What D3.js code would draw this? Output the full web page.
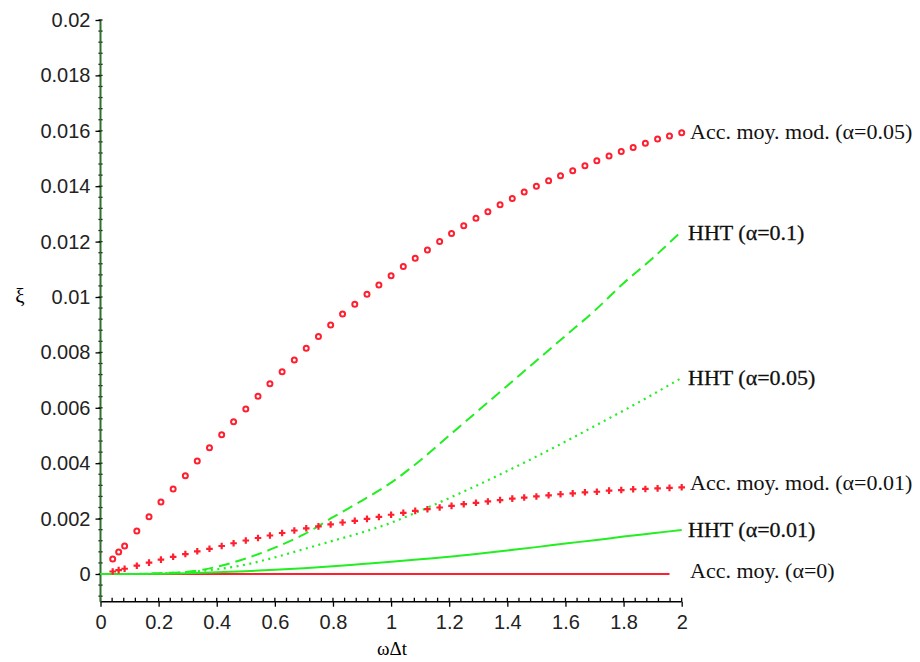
<!DOCTYPE html>
<html>
<head>
<meta charset="utf-8">
<script src="https://cdn.jsdelivr.net/npm/d3@7"></script>
<style>
  body { margin: 0; background: #fff; }
  svg { display: block; }
</style>
</head>
<body>
<svg id="chart"></svg>
<script>
"use strict";

// sample abscissae of the marker curves (omega * dt)
const markX = [0.042, 0.0625, 0.083, 0.125, 0.167, 0.208, 0.25, 0.292, 0.333, 0.375,
    0.417, 0.458, 0.5, 0.542, 0.583, 0.625, 0.667, 0.708, 0.75, 0.792,
    0.833, 0.875, 0.917, 0.958, 1.0, 1.042, 1.083, 1.125, 1.167, 1.208,
    1.25, 1.292, 1.333, 1.375, 1.417, 1.458, 1.5, 1.542, 1.583, 1.625,
    1.667, 1.708, 1.75, 1.792, 1.833, 1.875, 1.917, 1.958, 2.0];

// Acc. moy. mod. (alpha=0.05), values in 1e-3
const accMod05 = [0.54, 0.79, 1.01, 1.55, 2.07, 2.60, 3.07, 3.55, 4.08, 4.56,
    5.03, 5.50, 5.96, 6.42, 6.87, 7.30, 7.73, 8.15, 8.57, 8.99,
    9.39, 9.74, 10.10, 10.43, 10.77, 11.10, 11.40, 11.70, 12.00, 12.29,
    12.57, 12.84, 13.08, 13.33, 13.56, 13.79, 14.00, 14.20, 14.38, 14.56,
    14.74, 14.92, 15.09, 15.25, 15.40, 15.55, 15.70, 15.81, 15.93];

// Acc. moy. mod. (alpha=0.01), values in 1e-3
const accMod01 = [0.09, 0.14, 0.19, 0.30, 0.41, 0.52, 0.62, 0.72, 0.82, 0.91,
    1.01, 1.11, 1.21, 1.30, 1.39, 1.48, 1.57, 1.65, 1.72, 1.79,
    1.86, 1.92, 1.99, 2.06, 2.14, 2.21, 2.28, 2.34, 2.40, 2.46,
    2.52, 2.57, 2.62, 2.67, 2.72, 2.76, 2.80, 2.84, 2.88, 2.91,
    2.95, 2.97, 3.01, 3.03, 3.06, 3.07, 3.09, 3.11, 3.13];

// HHT curves, sampled every 0.1
const hhtX = [0, 0.1, 0.2, 0.3, 0.4, 0.5, 0.6, 0.7, 0.8, 0.9, 1.0,
    1.1, 1.2, 1.3, 1.4, 1.5, 1.6, 1.7, 1.8, 1.9, 2.0];
const hht10 = [0, 0.0, 0.03, 0.08, 0.26, 0.56, 0.95, 1.43, 2.05, 2.65, 3.3,
    4.1, 5.0, 5.9, 6.8, 7.7, 8.6, 9.5, 10.5, 11.4, 12.38];
const hht05 = [0, 0.0, 0.02, 0.07, 0.17, 0.34, 0.6, 0.9, 1.2, 1.5, 1.85,
    2.28, 2.74, 3.22, 3.72, 4.24, 4.78, 5.34, 5.9, 6.48, 7.08];
const hht01 = [0, 0.0, 0.01, 0.03, 0.06, 0.1, 0.15, 0.21, 0.28, 0.36, 0.44,
    0.53, 0.62, 0.73, 0.85, 0.97, 1.1, 1.22, 1.35, 1.47, 1.59];

// Acc. moy. (alpha=0)
const accX = [0.042, 1.958];
const acc0 = [0, 0];

const yTicks = [0, 0.002, 0.004, 0.006, 0.008, 0.01, 0.012, 0.014, 0.016, 0.018, 0.02];
const xTicks = [0, 0.2, 0.4, 0.6, 0.8, 1, 1.2, 1.4, 1.6, 1.8, 2];

const curveLabels = [
    {text: "Acc. moy. mod. (\u03b1=0.05)", y: 139, hht: false},
    {text: "HHT (\u03b1=0.1)", y: 240, hht: true},
    {text: "HHT (\u03b1=0.05)", y: 385, hht: true},
    {text: "Acc. moy. mod. (\u03b1=0.01)", y: 490, hht: false},
    {text: "HHT (\u03b1=0.01)", y: 537, hht: true},
    {text: "Acc. moy. (\u03b1=0)", y: 578, hht: false}
];

const RED = "#ff1f2f";
const GREEN = "#22ee22";

function zip(xs, ys) {
    return xs.map((x, i) => [x, ys[i] / 1000]);
}

class dampingChart {
    constructor(elem) {
        this.width = 920;
        this.height = 662;
        this.svg = d3.select(elem)
            .attr("width", this.width)
            .attr("height", this.height);

        this.x = d3.scaleLinear().domain([0, 2]).range([100.5, 681.7]);
        this.y = d3.scaleLinear().domain([-0.001, 0.02]).range([601.7, 20]);
    }

    drawAxes() {
        let x = this.x, y = this.y;
        let g = this.svg.append("g");

        // minor ticks
        let xMinor = d3.range(0, 2.0001, 0.04);
        g.selectAll("line.xminor").data(xMinor).join("line")
            .attr("x1", d => x(d)).attr("x2", d => x(d))
            .attr("y1", y(-0.001)).attr("y2", y(-0.001) - 4)
            .attr("stroke", "#000").attr("stroke-width", 1.3);
        let yMinor = d3.range(-0.0008, 0.02001, 0.0004);
        g.selectAll("line.yminor").data(yMinor).join("line")
            .attr("x1", x(0) - 2).attr("x2", x(0) + 2)
            .attr("y1", d => y(d)).attr("y2", d => y(d))
            .attr("stroke", "#000").attr("stroke-width", 1.3);

        let xAxis = d3.axisBottom(x).tickValues(xTicks).tickSize(5)
            .tickFormat(d3.format("~g")).tickPadding(8);
        let xg = g.append("g").attr("transform", `translate(0,${y(-0.001)})`).call(xAxis);
        xg.select(".domain").attr("d", `M${x(0)},0H${x(2)}`).attr("stroke-width", 1.5);

        let yAxis = d3.axisLeft(y).tickValues(yTicks).tickSize(5)
            .tickFormat(d3.format("~g")).tickPadding(5);
        let yg = g.append("g").attr("transform", `translate(${x(0)},0)`).call(yAxis);
        yg.select(".domain").attr("d", `M0,${y(0.02)}V${y(-0.001)}`)
            .attr("stroke", "#2f6f2f").attr("stroke-width", 2);

        g.selectAll(".tick text")
            .attr("font-family", "Liberation Sans, Arial, sans-serif")
            .attr("font-size", 20).attr("fill", "#222");
        g.selectAll(".tick line").attr("stroke-width", 1.3);

        g.append("text").text("\u03c9\u0394t")
            .attr("x", 392).attr("y", 655)
            .attr("text-anchor", "middle")
            .attr("font-family", "Liberation Serif, serif")
            .attr("font-size", 19);
        g.append("text").text("\u03be")
            .attr("x", 20).attr("y", 303)
            .attr("text-anchor", "middle")
            .attr("font-family", "Liberation Serif, serif")
            .attr("font-size", 21);
    }

    render() {
        let x = this.x, y = this.y;
        let line = d3.line().x(d => x(d[0])).y(d => y(d[1]));
        let smooth = d3.line().x(d => x(d[0])).y(d => y(d[1])).curve(d3.curveMonotoneX);

        this.drawAxes();
        let plot = this.svg.append("g");

        plot.append("path").datum(zip(accX, acc0))
            .attr("d", line).attr("fill", "none")
            .attr("stroke", RED).attr("stroke-width", 2);

        plot.append("path").datum(zip(hhtX, hht01))
            .attr("d", smooth).attr("fill", "none")
            .attr("stroke", GREEN).attr("stroke-width", 2);
        plot.append("path").datum(zip(hhtX, hht05))
            .attr("d", smooth).attr("fill", "none")
            .attr("stroke", GREEN).attr("stroke-width", 2.2)
            .attr("stroke-dasharray", "2,4.5");
        plot.append("path").datum(zip(hhtX, hht10))
            .attr("d", smooth).attr("fill", "none")
            .attr("stroke", GREEN).attr("stroke-width", 2)
            .attr("stroke-dasharray", "11,6");

        let cross = d3.symbol().type(d3.symbolCross).size(24);
        plot.selectAll("path.cross").data(zip(markX, accMod01)).join("path")
            .attr("class", "cross")
            .attr("d", cross)
            .attr("transform", d => `translate(${x(d[0])},${y(d[1])})`)
            .attr("fill", RED);

        plot.selectAll("circle.ring").data(zip(markX, accMod05)).join("circle")
            .attr("class", "ring")
            .attr("cx", d => x(d[0])).attr("cy", d => y(d[1]))
            .attr("r", 2.5)
            .attr("fill", "#fff")
            .attr("stroke", RED).attr("stroke-width", 2);

        this.svg.append("g").selectAll("text").data(curveLabels).join("text")
            .text(d => d.text)
            .attr("x", d => d.hht ? 688 : 690)
            .attr("y", d => d.y)
            .attr("font-family", "Liberation Serif, serif")
            .attr("font-size", 22)
            .attr("fill", "#111")
            .attr("stroke", d => d.hht ? "#111" : "none")
            .attr("stroke-width", 0.3);
    }
}

let chart = new dampingChart(document.querySelector("#chart"));
chart.render();
</script>
</body>
</html>
